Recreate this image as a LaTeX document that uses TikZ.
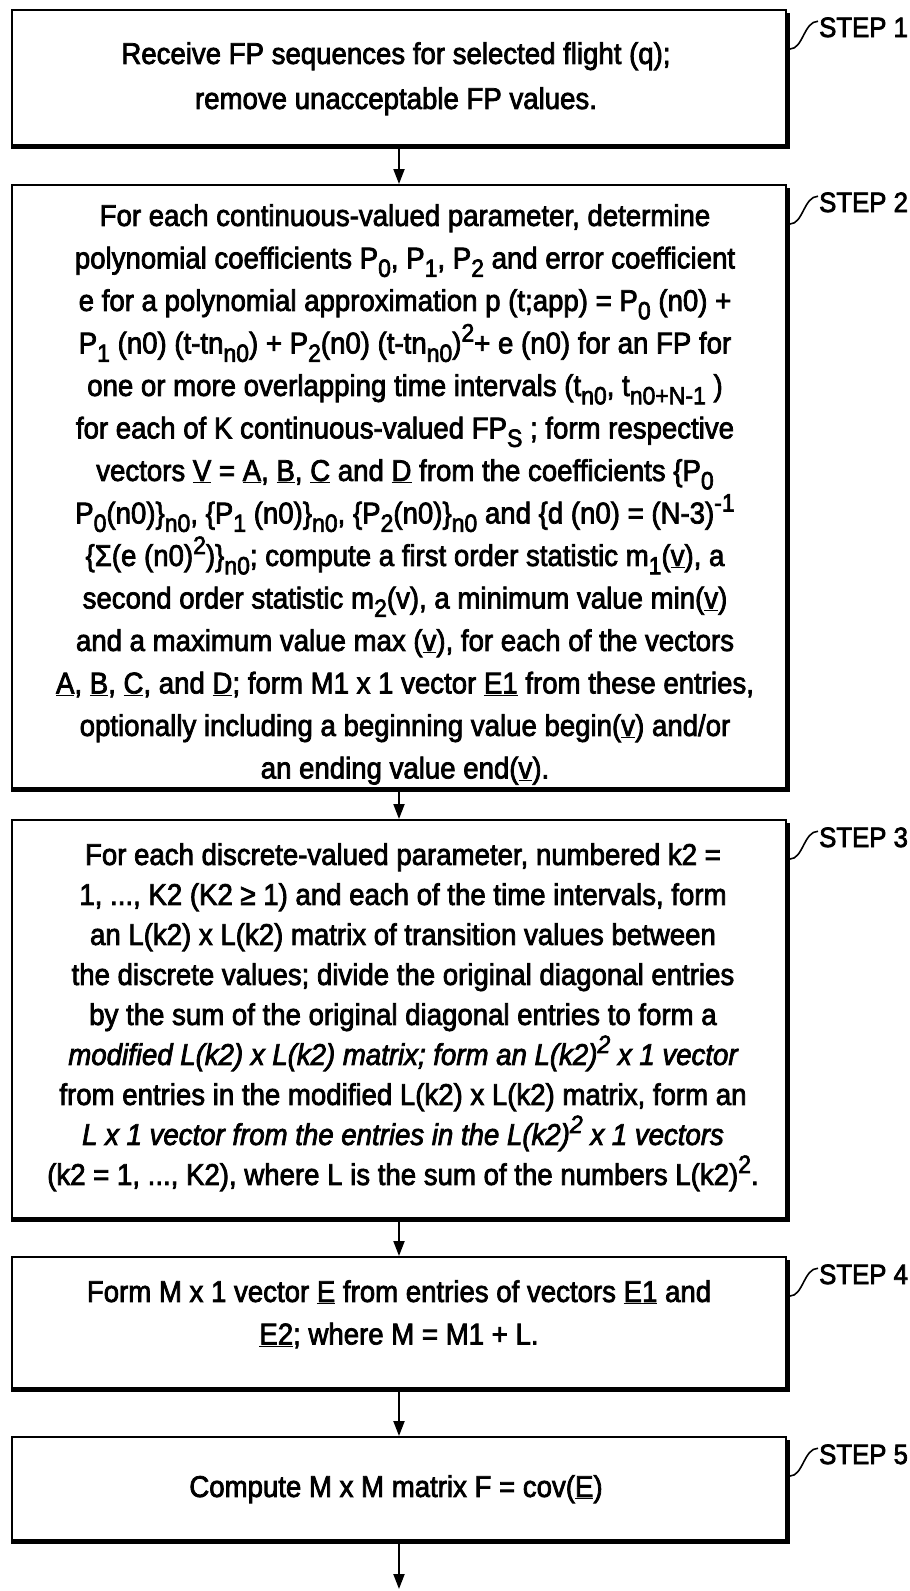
\documentclass[tikz,border=0pt]{standalone}
\usepackage{fontspec}
\setmainfont{Liberation Sans}[FakeStretch=0.92,FakeBold=2.5]
\usetikzlibrary{arrows.meta,calc}
\newcommand\lo[1]{\raisebox{-0.28em}{\fontsize{25}{25}\selectfont #1}}
\newcommand\hi[1]{\raisebox{0.40em}{\fontsize{25}{25}\selectfont #1}}
\newcommand\ul[1]{\underline{#1}}
\begin{document}
\begin{tikzpicture}[x=1pt,y=-1pt,
  boxsty/.style={draw, line width=2pt, minimum width=774pt, inner sep=0pt},
  txt/.style={align=center, inner sep=0pt, anchor=north, font=\fontsize{30}{42.5}\selectfont},
  lbl/.style={anchor=base west, inner sep=0pt, font=\fontsize{28}{28}\selectfont},
  flow/.style={line width=2pt, -{Triangle[length=15pt,width=11pt]}},
  lead/.style={line width=1.6pt},
  heavy/.style={line width=5pt}]
\useasboundingbox (0,0) rectangle (910,1591);

% boxes
\node[boxsty, minimum height=135pt] (b1) at (399,77.5) {};
\node[boxsty, minimum height=603pt] (b2) at (399,486.5) {};
\node[boxsty, minimum height=398pt] (b3) at (399,1019) {};
\node[boxsty, minimum height=131pt] (b4) at (399,1322.5) {};
\node[boxsty, minimum height=103pt] (b5) at (399,1488.5) {};
\foreach \b in {b1,b2,b3,b4,b5}{
  \draw[heavy] ($(\b.north east)+(0,4)$) -- (\b.south east) -- (\b.south west);
}

% texts
\node[txt, font=\fontsize{30}{45}\selectfont] (t1) at (396,42) {Receive FP sequences for selected flight (q);\\
remove unacceptable FP values.};

\node[txt] (t2) at (405,204) {For each continuous-valued parameter, determine\\
polynomial coefficients P\lo{0}, P\lo{1}, P\lo{2} and error coefficient\\
e for a polynomial approximation p (t;app) = P\lo{0} (n0) +\\
P\lo{1} (n0) (t-tn\lo{n0}) + P\lo{2}(n0) (t-tn\lo{n0})\hi{2}+ e (n0) for an FP for\\
one or more overlapping time intervals (t\lo{n0}, t\lo{n0+N-1} )\\
for each of K continuous-valued FP\lo{S} ; form respective\\
vectors \ul{V} = \ul{A}, \ul{B}, \ul{C} and \ul{D} from the coefficients \{P\lo{0}\\
P\lo{0}(n0)\}\lo{n0}, \{P\lo{1} (n0)\}\lo{n0}, \{P\lo{2}(n0)\}\lo{n0} and \{d (n0) = (N-3)\hi{-1}\\
\{Σ(e (n0)\hi{2})\}\lo{n0}; compute a first order statistic m\lo{1}(\ul{v}), a\\
second order statistic m\lo{2}(v), a minimum value min(\ul{v})\\
and a maximum value max (\ul{v}), for each of the vectors\\
\ul{A}, \ul{B}, \ul{C}, and \ul{D}; form M1 x 1 vector \ul{E1} from these entries,\\
optionally including a beginning value begin(\ul{v}) and/or\\
an ending value end(\ul{v}).};

\node[txt, font=\fontsize{30}{40}\selectfont] (t3) at (403,843) {For each discrete-valued parameter, numbered k2 =\\
1, ..., K2 (K2 ≥ 1) and each of the time intervals, form\\
an L(k2) x L(k2) matrix of transition values between\\
the discrete values; divide the original diagonal entries\\
by the sum of the original diagonal entries to form a\\
{\itshape modified L(k2) x L(k2) matrix; form an L(k2)\hi{2} x 1 vector}\\
from entries in the modified L(k2) x L(k2) matrix, form an\\
{\itshape L x 1 vector from the entries in the L(k2)\hi{2} x 1 vectors}\\
(k2 = 1, ..., K2), where L is the sum of the numbers L(k2)\hi{2}.};

\node[txt] (t4) at (399,1280) {Form M x 1 vector \ul{E} from entries of vectors \ul{E1} and\\
\ul{E2}; where M = M1 + L.};

\node[txt] (t5) at (396,1475) {Compute M x M matrix F = cov(\ul{E})};

% connectors
\draw[flow] (b1.south) -- (b2.north);
\draw[flow] (b2.south) -- (b3.north);
\draw[flow] (b3.south) -- (b4.north);
\draw[flow] (b4.south) -- (b5.north);
\coordinate (fin) at (399,1589);
\draw[flow] (b5.south) -- (fin);

% step labels
\foreach \b/\n in {b1/1,b2/2,b3/3,b4/4,b5/5}{
  \node[lbl] (s\n) at ($(\b.north east)+(32,28)$) {STEP \n};
  \coordinate (e\n) at ($(\b.north east)+(3,40)$);
  \draw[lead] (e\n) .. controls ($(e\n)+(13,0)$) and ($(s\n.north west)+(-15,4)$) .. ($(s\n.north west)+(-1,4)$);
}
\end{tikzpicture}
\end{document}
